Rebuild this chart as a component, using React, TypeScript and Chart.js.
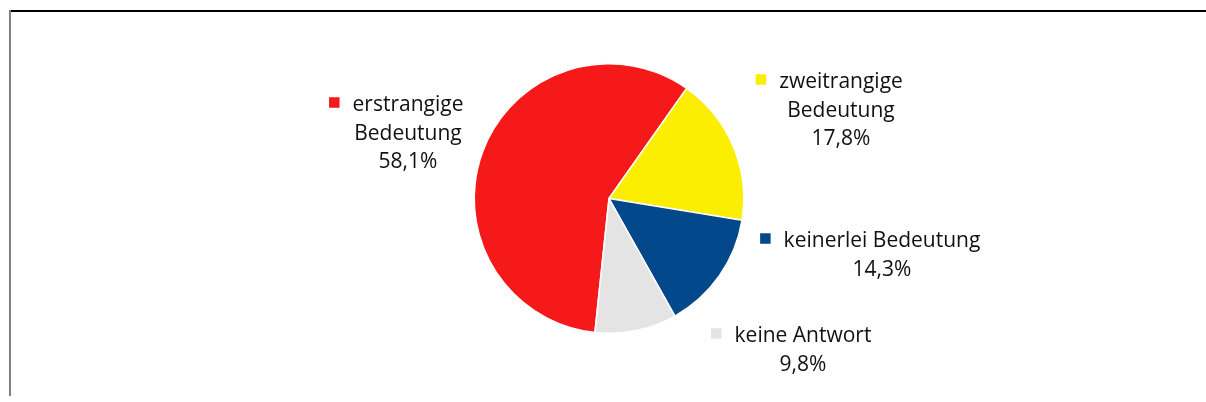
import React, { useEffect, useRef } from "react";
import { Chart, registerables } from "chart.js";

Chart.register(...registerables);

const categories: string[][] = [
  ["erstrangige", "Bedeutung"],
  ["zweitrangige", "Bedeutung"],
  ["keinerlei Bedeutung"],
  ["keine Antwort"],
];
const values: number[] = [58.1, 17.8, 14.3, 9.8];
const colors: string[] = ["#F6191A", "#FBEE00", "#02488A", "#E3E4E3"];

// label anchor offsets relative to pie centre: [text centre x, first baseline y]
const labelOffsets: [number, number][] = [
  [-201, -87.5],
  [232, -110.5],
  [273, 48.5],
  [194, 143.5],
];

const FONT = "21px 'Open Sans', 'Noto Sans', sans-serif";
const LINE_H = 28.5;
const KEY = 10.5;
const KEY_GAP = 13;

const labelPlugin = {
  id: "sliceLabels",
  afterDatasetsDraw(chart: any) {
    const ctx = chart.ctx as CanvasRenderingContext2D;
    const meta = chart.getDatasetMeta(0);
    const ds = chart.data.datasets[0];
    ctx.save();
    ctx.font = FONT;
    ctx.textAlign = "center";
    ctx.textBaseline = "alphabetic";
    meta.data.forEach((arc: any, i: number) => {
      const [ox, oy] = labelOffsets[i];
      const cx = arc.x + ox;
      const by = arc.y + oy;
      const lines = [
        ...(chart.data.labels[i] as string[]),
        String(ds.data[i].toFixed(1)).replace(".", ",") + "%",
      ];
      ctx.fillStyle = "#111111";
      lines.forEach((t, j) => {
        ctx.fillText(t, cx, by + j * LINE_H);
      });
      const w = ctx.measureText(lines[0]).width;
      ctx.fillStyle = (ds.backgroundColor as string[])[i];
      ctx.fillRect(cx - w / 2 - KEY_GAP - KEY, by - 8.5 - KEY / 2, KEY, KEY);
    });
    ctx.restore();
  },
};

export default function App() {
  const ref = useRef<HTMLCanvasElement | null>(null);
  useEffect(() => {
    if (!ref.current) return;
    const chart = new Chart(ref.current, {
      type: "pie",
      data: {
        labels: categories as any,
        datasets: [
          {
            data: values,
            backgroundColor: colors,
            borderColor: "#ffffff",
            borderWidth: 1.5,
          },
        ],
      },
      options: {
        animation: false,
        responsive: false,
        rotation: 186,
        layout: { padding: { top: 63, bottom: 68, left: 12, right: 0 } },
        plugins: {
          legend: { display: false },
          tooltip: { enabled: false },
        },
      },
      plugins: [labelPlugin],
    });
    return () => chart.destroy();
  }, []);

  return (
    <div
      style={{
        position: "fixed",
        left: 0,
        top: 0,
        width: 1206,
        height: 402,
        background: "#ffffff",
        overflow: "hidden",
      }}
    >
      <div
        style={{
          position: "absolute",
          left: 10,
          top: 10,
          width: 1196,
          height: 2,
          background: "#000000",
        }}
      />
      <div
        style={{
          position: "absolute",
          left: 9,
          top: 10,
          width: 2,
          height: 386,
          background: "#808080",
        }}
      />
      <canvas
        ref={ref}
        width={1206}
        height={402}
        style={{ position: "absolute", left: 0, top: 0, width: 1206, height: 402 }}
      />
    </div>
  );
}
